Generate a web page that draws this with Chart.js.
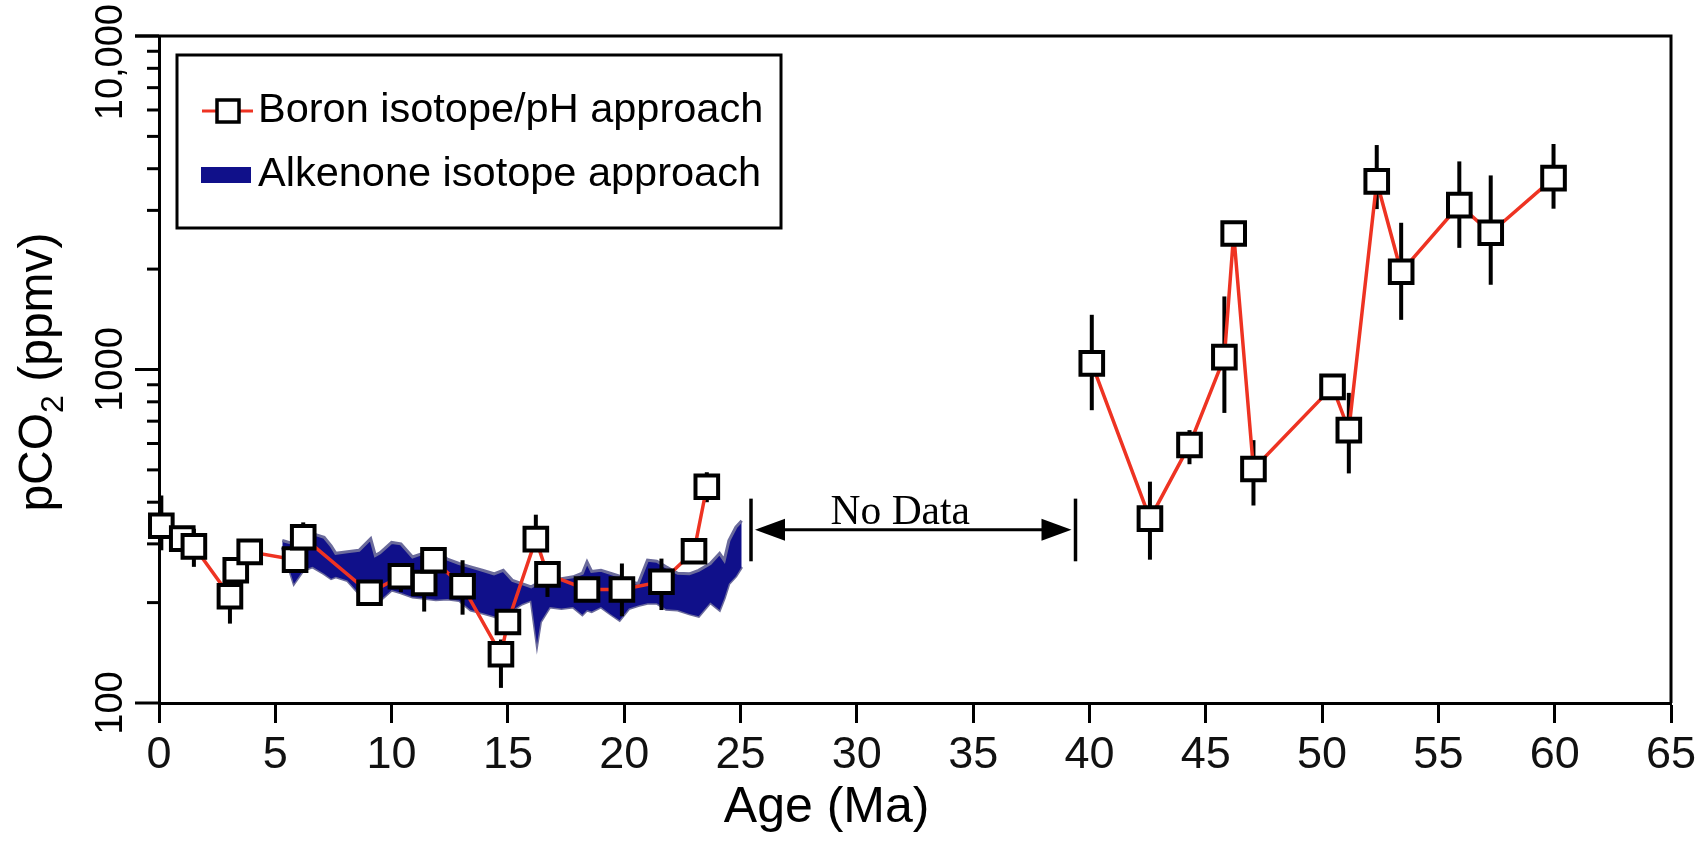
<!DOCTYPE html>
<html>
<head>
<meta charset="utf-8">
<title>pCO2 over the last 60 Ma</title>
<script src="https://cdn.jsdelivr.net/npm/chart.js@4.4.1/dist/chart.umd.min.js"></script>
<style>
  html, body { margin: 0; padding: 0; background: #fff; }
  #wrap { width: 1707px; height: 850px; }
</style>
</head>
<body>
<div id="wrap"><canvas id="co2Chart" width="1707" height="850"></canvas></div>
<script>
// boron isotope / pH estimates (age in Ma, pCO2 in ppmv)
var boronAge = [0.1, 1.0, 1.5, 3.05, 3.3, 3.9, 5.85, 6.2, 9.05, 10.4, 11.4, 11.8, 13.05, 14.7, 15.0, 16.2, 16.7, 18.4, 19.9, 21.6, 23.0, 23.55,
                40.1, 42.6, 44.3, 45.8, 46.2, 47.05, 50.45, 51.15, 52.35, 53.4, 55.9, 57.25, 59.95];
var boronCO2 = [340, 311, 295, 209, 250, 284, 269, 314, 214, 240, 229, 268, 224, 140, 175, 310, 243, 219, 219, 231, 285, 445,
                1043, 357, 594, 1089, 2557, 503, 887, 658, 3664, 1963, 3112, 2571, 3748];
// error bars (null = none drawn)
var boronErrLow  = [287, null, 256, 173, 239, 268, null, 262, null, 215, 188, 250, 184, 111, 162, 287, 208, null, 182, 190, null, 400,
                    755, 269, 520, 741, null, 391, null, 488, 3027, 1409, 2316, 1795, 3035];
var boronErrHigh = [419, null, 333, 228, 265, 300, null, 348, null, 253, 256, 290, 268, 155, 179, 367, 265, null, 262, 271, null, 492,
                    1459, 461, 658, 1656, null, 614, null, 851, 4710, 2754, 4207, 3819, 4745];

// alkenone isotope envelope
var alkAge  = [5.3, 5.8, 6.2, 6.6, 7.1, 7.4, 7.6, 8.1, 8.6, 9.1, 9.3, 9.5, 10.0, 10.4, 10.9, 11.4, 11.9, 12.4, 12.9, 13.4, 13.9, 14.4, 14.8, 15.2, 15.6,
               16.0, 16.25, 16.4, 16.8, 17.3, 17.8, 18.2, 18.4, 18.6, 19.0, 19.4, 19.8, 20.2, 20.6, 21.0, 21.4, 21.8, 22.3, 22.8, 23.2, 23.7, 24.1, 24.3, 24.5, 24.8, 25.05];
var alkHigh = [307, 300, 330, 322, 314, 296, 281, 284, 287, 311, 277, 282, 303, 300, 274, 282, 287, 270, 262, 256, 250, 244, 250, 233, 228,
               223, 228, 232, 233, 236, 239, 245, 265, 248, 250, 245, 240, 232, 228, 268, 266, 256, 245, 244, 250, 262, 281, 268, 307, 337, 352];
var alkLow  = [293, 228, 250, 256, 244, 236, 239, 233, 213, 205, 200, 203, 218, 214, 208, 206, 204, 205, 203, 190, 186, 182, 177, 190, 198,
               203, 150, 175, 194, 192, 194, 184, 190, 188, 194, 185, 177, 192, 196, 199, 199, 191, 190, 185, 182, 200, 190, 206, 228, 240, 256];

var yTicks = [100, 200, 300, 400, 500, 600, 700, 800, 900, 1000, 2000, 3000, 4000, 5000, 6000, 7000, 8000, 9000, 10000];
var yTickLabels = { 100: '100', 1000: '1000', 10000: '10,000' };

// "No Data" gap marker
var noDataFrom = 25.45, noDataTo = 39.4;
var noDataLow = 266, noDataHigh = 410, noDataArrow = 331, noDataText = 345;

var RED = '#ee3322';
var NAVY = '#10108a';
var BAND_EDGE = '#6b6b9b';
var SANS = '"Liberation Sans", Arial, sans-serif';

function toPoints(xs, ys) {
    return xs.map(function (x, i) { return { x: x, y: ys[i] }; });
}

// error bars: above the alkenone band, below the boron squares
var errorBars = {
    id: 'errorBars',
    beforeDatasetDraw: function (chart, args) {
        if (args.index !== 0) return;
        var ctx = chart.ctx, xs = chart.scales.x, ys = chart.scales.y;
        ctx.save();
        ctx.strokeStyle = '#000';
        ctx.lineWidth = 4;
        for (var i = 0; i < boronAge.length; i++) {
            if (boronErrLow[i] === null) continue;
            var px = xs.getPixelForValue(boronAge[i]);
            ctx.beginPath();
            ctx.moveTo(px, ys.getPixelForValue(boronErrLow[i]));
            ctx.lineTo(px, ys.getPixelForValue(boronErrHigh[i]));
            ctx.stroke();
        }
        ctx.restore();
    }
};

function arrowHead(ctx, x, y, dir) {
    ctx.beginPath();
    ctx.moveTo(x, y);
    ctx.lineTo(x - dir * 30, y - 11);
    ctx.lineTo(x - dir * 30, y + 11);
    ctx.closePath();
    ctx.fill();
}

var noData = {
    id: 'noData',
    afterDatasetsDraw: function (chart) {
        var ctx = chart.ctx, xs = chart.scales.x, ys = chart.scales.y;
        var x1 = xs.getPixelForValue(noDataFrom), x2 = xs.getPixelForValue(noDataTo);
        var yA = ys.getPixelForValue(noDataArrow);
        ctx.save();
        ctx.strokeStyle = '#000';
        ctx.fillStyle = '#000';
        ctx.lineWidth = 3.5;
        [x1, x2].forEach(function (x) {
            ctx.beginPath();
            ctx.moveTo(x, ys.getPixelForValue(noDataLow));
            ctx.lineTo(x, ys.getPixelForValue(noDataHigh));
            ctx.stroke();
        });
        ctx.lineWidth = 3;
        ctx.beginPath();
        ctx.moveTo(x1 + 20, yA);
        ctx.lineTo(x2 - 20, yA);
        ctx.stroke();
        arrowHead(ctx, x1 + 4, yA, -1);
        arrowHead(ctx, x2 - 4, yA, 1);
        ctx.font = '41.5px "Liberation Serif", "Times New Roman", serif';
        ctx.textAlign = 'center';
        ctx.textBaseline = 'alphabetic';
        ctx.fillText('No Data', (x1 + x2) / 2 - 13, ys.getPixelForValue(noDataText));
        ctx.restore();
    }
};

// frame, log ticks, rotated labels, titles and boxed legend
var decorations = {
    id: 'decorations',
    afterDraw: function (chart) {
        var ctx = chart.ctx, a = chart.chartArea, xs = chart.scales.x, ys = chart.scales.y;
        ctx.save();
        ctx.strokeStyle = '#000';
        ctx.fillStyle = '#000';
        ctx.lineWidth = 3;
        ctx.beginPath();
        ctx.moveTo(a.left - 24, a.top);
        ctx.lineTo(a.right, a.top);
        ctx.lineTo(a.right, a.bottom);
        ctx.stroke();

        // y ticks + labels
        ctx.font = '38px ' + SANS;
        ctx.textBaseline = 'alphabetic';
        ctx.textAlign = 'center';
        yTicks.forEach(function (v) {
            var py = ys.getPixelForValue(v);
            var len = yTickLabels[v] ? 24 : 12;
            ctx.beginPath();
            ctx.moveTo(a.left - len, py);
            ctx.lineTo(a.left, py);
            ctx.stroke();
            if (yTickLabels[v]) {
                var w = ctx.measureText(yTickLabels[v]).width;
                var cy = Math.max(py, w / 2 + 4);
                ctx.save();
                ctx.translate(122, cy);
                ctx.rotate(-Math.PI / 2);
                ctx.fillText(yTickLabels[v], 0, 0);
                ctx.restore();
            }
        });

        // y title with subscript
        ctx.save();
        ctx.translate(52, 372);
        ctx.rotate(-Math.PI / 2);
        ctx.textAlign = 'left';
        var big = '48px ' + SANS;
        var small = '32px ' + SANS;
        ctx.font = big;
        var w1 = ctx.measureText('pCO').width, w3 = ctx.measureText(' (ppmv)').width;
        ctx.font = small;
        var w2 = ctx.measureText('2').width;
        var sx = -(w1 + w2 + w3) / 2;
        ctx.font = big;
        ctx.fillText('pCO', sx, 0);
        ctx.font = small;
        ctx.fillText('2', sx + w1, 11);
        ctx.font = big;
        ctx.fillText(' (ppmv)', sx + w1 + w2, 0);
        ctx.restore();

        // x title
        ctx.font = '50px ' + SANS;
        ctx.textAlign = 'center';
        ctx.textBaseline = 'middle';
        ctx.fillText('Age (Ma)', xs.getPixelForValue(28.7), 808);

        // legend
        var lx = a.left + 18, ly = a.top + 19, lw = 604, lh = 173;
        ctx.fillStyle = '#fff';
        ctx.fillRect(lx, ly, lw, lh);
        ctx.lineWidth = 3;
        ctx.strokeRect(lx, ly, lw, lh);
        var boron = chart.data.datasets[0], alk = chart.data.datasets[2];
        var r1 = ly + 56, r2 = ly + 120;
        ctx.strokeStyle = boron.borderColor;
        ctx.lineWidth = 3;
        ctx.beginPath();
        ctx.moveTo(lx + 25, r1);
        ctx.lineTo(lx + 76, r1);
        ctx.stroke();
        ctx.fillStyle = '#fff';
        ctx.strokeStyle = '#000';
        ctx.lineWidth = 3.5;
        ctx.fillRect(lx + 40, r1 - 11, 22, 22);
        ctx.strokeRect(lx + 40, r1 - 11, 22, 22);
        ctx.fillStyle = alk.backgroundColor;
        ctx.fillRect(lx + 24, r2 - 8, 50, 16);
        ctx.fillStyle = '#000';
        ctx.font = '41.5px ' + SANS;
        ctx.textAlign = 'left';
        ctx.textBaseline = 'middle';
        ctx.fillText(boron.label, lx + 81, r1);
        ctx.fillText(alk.label, lx + 81, r2);
        ctx.restore();
    }
};

var ctx = document.getElementById('co2Chart').getContext('2d');
var chart = new Chart(ctx, {
    type: 'line',
    data: {
        datasets: [
            {
                label: 'Boron isotope/pH approach',
                data: toPoints(boronAge, boronCO2),
                borderColor: RED,
                borderWidth: 3.5,
                pointStyle: 'rect',
                pointRadius: 16,
                pointBackgroundColor: '#fff',
                pointBorderColor: '#000',
                pointBorderWidth: 4,
                fill: false,
                clip: false,
                order: 0,
                segment: {
                    borderColor: function (c) {
                        return (c.p0.parsed.x < noDataFrom && c.p1.parsed.x > noDataTo) ? 'rgba(0,0,0,0)' : undefined;
                    }
                }
            },
            {
                label: 'Alkenone lower',
                data: toPoints(alkAge, alkLow),
                borderColor: BAND_EDGE,
                borderWidth: 3,
                pointRadius: 0,
                fill: false,
                order: 2
            },
            {
                label: 'Alkenone isotope approach',
                data: toPoints(alkAge, alkHigh),
                borderColor: BAND_EDGE,
                borderWidth: 3,
                backgroundColor: NAVY,
                pointRadius: 0,
                fill: '-1',
                order: 1
            }
        ]
    },
    options: {
        responsive: false,
        animation: false,
        events: [],
        layout: { padding: { top: 36, right: 36, left: 0, bottom: 0 } },
        plugins: { legend: { display: false }, tooltip: { enabled: false } },
        scales: {
            x: {
                type: 'linear',
                min: 0,
                max: 65,
                ticks: {
                    stepSize: 5,
                    maxRotation: 0,
                    padding: 6,
                    color: '#111',
                    font: { family: SANS, size: 45 }
                },
                grid: { drawOnChartArea: false, tickLength: 20, tickWidth: 3, tickColor: '#000' },
                border: { color: '#000', width: 3 },
                afterFit: function (s) { s.height = 147; }
            },
            y: {
                type: 'logarithmic',
                min: 100,
                max: 10000,
                afterBuildTicks: function (s) {
                    s.ticks = yTicks.map(function (v) { return { value: v }; });
                },
                ticks: { display: false },
                grid: { drawOnChartArea: false, drawTicks: false },
                border: { color: '#000', width: 3 },
                afterFit: function (s) { s.width = 159; }
            }
        }
    },
    plugins: [errorBars, noData, decorations]
});
</script>
</body>
</html>
